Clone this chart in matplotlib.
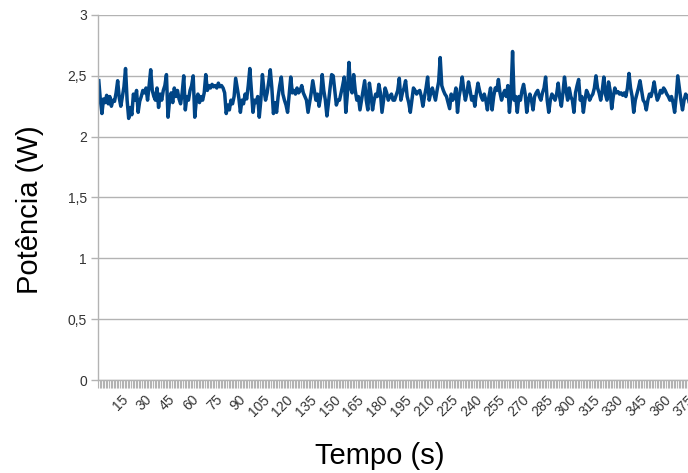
import matplotlib
matplotlib.use("Agg")
import matplotlib.pyplot as plt
from matplotlib.ticker import FixedLocator, FuncFormatter

plt.rcParams["font.family"] = ["Liberation Sans", "DejaVu Sans"]

# Power readings, one per second
power_w = [
    2.46, 2.30, 2.19, 2.31, 2.28, 2.34, 2.27, 2.33, 2.25, 2.30,
    2.29, 2.36, 2.46, 2.32, 2.25, 2.33, 2.41, 2.56, 2.30, 2.15,
    2.24, 2.18, 2.35, 2.30, 2.38, 2.20, 2.29, 2.33, 2.38, 2.36,
    2.40, 2.30, 2.42, 2.55, 2.38, 2.33, 2.30, 2.40, 2.24, 2.35,
    2.30, 2.38, 2.42, 2.51, 2.16, 2.30, 2.36, 2.28, 2.40, 2.33,
    2.38, 2.31, 2.27, 2.36, 2.50, 2.22, 2.33, 2.30, 2.38, 2.42,
    2.50, 2.16, 2.30, 2.35, 2.28, 2.33, 2.30, 2.36, 2.51, 2.38,
    2.42, 2.40, 2.43, 2.41, 2.42, 2.40, 2.44, 2.41, 2.42, 2.40,
    2.36, 2.19, 2.26, 2.22, 2.30, 2.27, 2.33, 2.48, 2.40, 2.32,
    2.20, 2.30, 2.27, 2.35, 2.31, 2.42, 2.56, 2.38, 2.20, 2.30,
    2.28, 2.33, 2.16, 2.30, 2.51, 2.38, 2.30, 2.36, 2.45, 2.55,
    2.40, 2.19, 2.28, 2.20, 2.33, 2.42, 2.49, 2.35, 2.30, 2.26,
    2.20, 2.35, 2.49, 2.36, 2.38, 2.35, 2.40, 2.36, 2.38, 2.42,
    2.36, 2.33, 2.30, 2.20, 2.28, 2.36, 2.46, 2.38, 2.30, 2.35,
    2.25, 2.33, 2.51, 2.38, 2.30, 2.17, 2.28, 2.40, 2.51, 2.50,
    2.38, 2.26, 2.30, 2.30, 2.36, 2.42, 2.49, 2.20, 2.35, 2.61,
    2.40, 2.36, 2.51, 2.38, 2.30, 2.33, 2.22, 2.30, 2.38, 2.46,
    2.30, 2.22, 2.44, 2.35, 2.22, 2.30, 2.35, 2.33, 2.43, 2.36,
    2.20, 2.30, 2.40, 2.36, 2.30, 2.33, 2.35, 2.30, 2.30, 2.34,
    2.38, 2.48, 2.30, 2.36, 2.40, 2.46, 2.33, 2.28, 2.20, 2.30,
    2.40, 2.38, 2.35, 2.37, 2.38, 2.33, 2.25, 2.33, 2.40, 2.49,
    2.30, 2.36, 2.40, 2.35, 2.30, 2.38, 2.45, 2.65, 2.42, 2.38,
    2.35, 2.33, 2.28, 2.23, 2.35, 2.30, 2.33, 2.40, 2.20, 2.33,
    2.40, 2.49, 2.38, 2.30, 2.36, 2.45, 2.38, 2.30, 2.33, 2.25,
    2.36, 2.44, 2.38, 2.33, 2.30, 2.35, 2.30, 2.22, 2.33, 2.40,
    2.22, 2.33, 2.40, 2.38, 2.47, 2.36, 2.30, 2.35, 2.38, 2.33,
    2.42, 2.20, 2.35, 2.70, 2.30, 2.33, 2.20, 2.33, 2.30, 2.38,
    2.43, 2.35, 2.20, 2.30, 2.35, 2.30, 2.22, 2.33, 2.36, 2.38,
    2.33, 2.30, 2.36, 2.40, 2.49, 2.30, 2.20, 2.30, 2.35, 2.33,
    2.30, 2.35, 2.44, 2.32, 2.25, 2.36, 2.49, 2.38, 2.30, 2.40,
    2.33, 2.30, 2.20, 2.36, 2.42, 2.47, 2.30, 2.33, 2.20, 2.30,
    2.38, 2.35, 2.30, 2.33, 2.35, 2.40, 2.50, 2.40, 2.36, 2.30,
    2.38, 2.49, 2.35, 2.30, 2.45, 2.38, 2.23, 2.33, 2.40, 2.36,
    2.37, 2.35, 2.36, 2.34, 2.36, 2.33, 2.40, 2.52, 2.40, 2.33,
    2.20, 2.30, 2.35, 2.40, 2.46, 2.38, 2.30, 2.28, 2.22, 2.30,
    2.35, 2.33, 2.38, 2.45, 2.36, 2.30, 2.33, 2.38, 2.36, 2.40,
    2.38, 2.35, 2.33, 2.30, 2.33, 2.28, 2.20, 2.33, 2.50, 2.40,
    2.30, 2.22, 2.30, 2.35, 2.33, 2.30, 2.22, 2.32,
]
time_s = list(range(1, len(power_w) + 1))
x_labels = list(range(15, 376, 15))
y_ticks = [0, 0.5, 1, 1.5, 2, 2.5, 3]

GRID = "#b3b3b3"
LINE = "#004586"
TEXT = "#333333"

fig = plt.figure(figsize=(6.88, 4.73), dpi=100)
ax = fig.add_axes([98 / 688, 93 / 473, 590 / 688, 365 / 473])

ax.plot(time_s, power_w, color=LINE, linewidth=2.5, solid_joinstyle="round")

ax.set_xlim(0.5, 375.5)
ax.set_ylim(0, 3)

ax.set_yticks(y_ticks)
ax.yaxis.set_major_formatter(FuncFormatter(lambda v, p: f"{v:g}".replace(".", ",")))
ax.grid(axis="y", color=GRID, linewidth=1)
ax.set_axisbelow(True)

# category boundaries as minor ticks, labels every 15 s
ax.xaxis.set_minor_locator(FixedLocator([i + 0.5 for i in range(0, 376)]))
ax.set_xticks(x_labels)
ax.set_xticklabels([str(v) for v in x_labels], rotation=45, ha="right",
                   va="top", rotation_mode="anchor")

ax.tick_params(axis="x", which="major", length=0, pad=9, labelsize=10, labelcolor=TEXT)
ax.tick_params(axis="x", which="minor", length=6, width=0.8, color=GRID)
ax.tick_params(axis="y", length=5, width=1, color=GRID, labelsize=10, labelcolor=TEXT, pad=3)

for side in ("top", "right"):
    ax.spines[side].set_visible(False)
for side in ("left", "bottom"):
    ax.spines[side].set_color(GRID)
    ax.spines[side].set_linewidth(1)

fig.text(30 / 688, 1 - 210 / 473, "Potência (W)", rotation=90, ha="center",
         va="center", fontsize=21, color="black")
fig.text(380 / 688, 1 - 456 / 473, "Tempo (s)", ha="center", va="center",
         fontsize=21, color="black")

fig.savefig("out.png", dpi=100)
